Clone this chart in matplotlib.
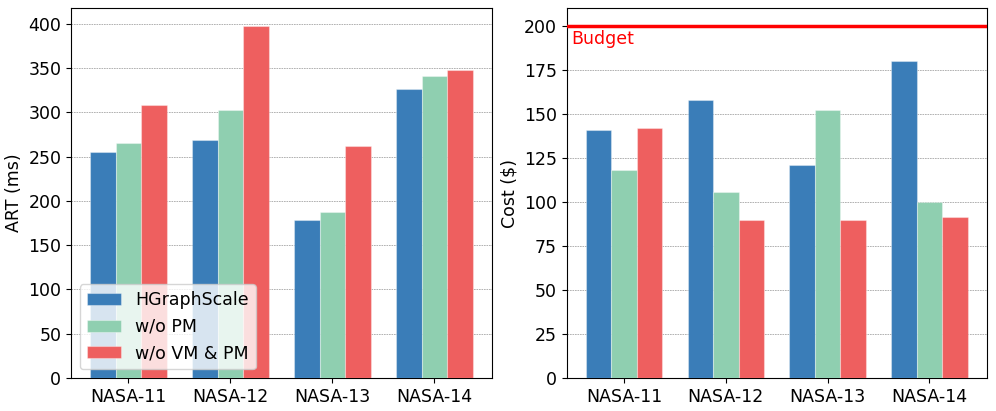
import matplotlib
matplotlib.use('Agg')
import matplotlib.pyplot as plt
import numpy as np

# data
datasets = ['NASA-11', 'NASA-12', 'NASA-13', 'NASA-14']
methods = ['HGraphScale', 'w/o PM', 'w/o VM & PM']
colors = ['#3A7DB8', '#8FCFB0', '#EE5F5F']

art_hgs = [255, 269, 178, 326]
art_wo_pm = [265, 303, 187, 341]
art_wo_vm_pm = [308, 398, 262, 348]

cost_hgs = [140.6, 157.6, 120.9, 179.8]
cost_wo_pm = [118, 105.8, 152.1, 100]
cost_wo_vm_pm = [141.7, 89.5, 89.5, 91.2]

budget = 200

fig = plt.figure(figsize=(9.96, 4.11), dpi=100)
ax1 = fig.add_axes([71/996, 1-378/411, 420.7/996, 370/411])
ax2 = fig.add_axes([566.7/996, 1-378/411, 420/996, 370/411])

x = np.arange(len(datasets))
w = 0.25
fs = 12.5

for ax, series in [(ax1, [art_hgs, art_wo_pm, art_wo_vm_pm]),
                   (ax2, [cost_hgs, cost_wo_pm, cost_wo_vm_pm])]:
    for i, vals in enumerate(series):
        ax.bar(x + (i - 1) * w, vals, w, color=colors[i], label=methods[i],
               edgecolor=(1, 1, 1, 0.35), linewidth=0.8, zorder=3)
    ax.set_xticks(x)
    ax.set_xticklabels(datasets, fontsize=fs)
    ax.tick_params(axis='y', labelsize=fs)
    ax.grid(axis='y', linestyle=(0, (2, 1)), color='gray', linewidth=0.6, alpha=0.7, zorder=0)
    ax.set_axisbelow(True)

ax1.set_ylabel('ART (ms)', fontsize=fs)
ax1.set_yticks(np.arange(0, 401, 50))
ax1.legend(loc='lower left', fontsize=fs)

ax2.set_ylabel('Cost ($)', fontsize=fs)
ax2.set_ylim(0, 210)
ax2.set_yticks(np.arange(0, 201, 25))
ax2.axhline(budget, color='red', linewidth=2.5, zorder=4)
ax2.text(0.012, budget - 2.5, 'Budget', color='red', fontsize=fs, va='top',
         transform=ax2.get_yaxis_transform())

fig.savefig('out.png', dpi=100)
